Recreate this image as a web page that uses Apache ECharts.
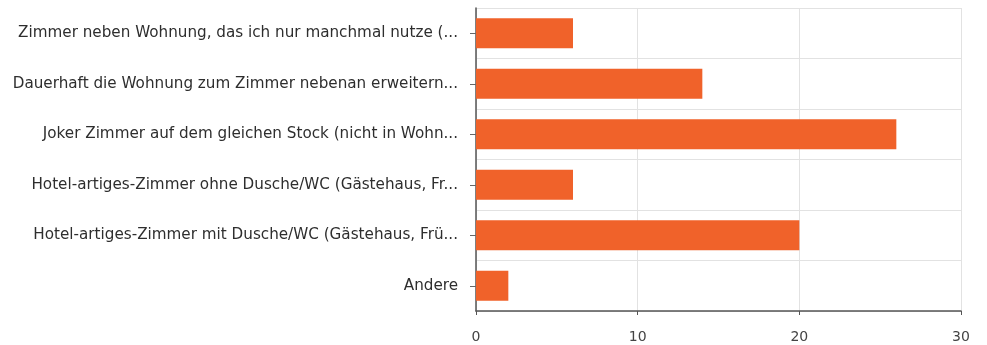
<!DOCTYPE html>
<html><head><meta charset="utf-8">
<script src="https://cdn.jsdelivr.net/npm/echarts@6/dist/echarts.min.js"></script>
<style>html,body{margin:0;padding:0;background:#fff}#c{width:987px;height:345px}</style>
</head><body><div id="c"></div>
<script>
const categories = [
  "Zimmer neben Wohnung, das ich nur manchmal nutze (...",
  "Dauerhaft die Wohnung zum Zimmer nebenan erweitern...",
  "Joker Zimmer auf dem gleichen Stock (nicht in Wohn...",
  "Hotel-artiges-Zimmer ohne Dusche/WC (Gästehaus, Fr...",
  "Hotel-artiges-Zimmer mit Dusche/WC (Gästehaus, Frü...",
  "Andere"
];
const values = [6, 14, 26, 6, 20, 2];
const xTicks = [0, 10, 20, 30];

const chart = echarts.init(document.getElementById('c'));
chart.setOption({
  animation: false,
  grid: { left: 476, right: 26, top: 8, bottom: 34, containLabel: false },
  xAxis: {
    type: 'value', min: xTicks[0], max: xTicks[xTicks.length - 1], interval: 10,
    axisLine: { show: true, lineStyle: { color: '#555', width: 1.5 } },
    axisTick: { show: true, length: 4, lineStyle: { color: '#555' } },
    axisLabel: { color: '#444', fontSize: 14, fontFamily: 'DejaVu Sans', margin: 19 },
    splitLine: { show: true, lineStyle: { color: '#e2e2e2' } }
  },
  yAxis: {
    type: 'category', data: categories, inverse: true,
    axisLine: { show: true, lineStyle: { color: '#555', width: 1.5 } },
    axisTick: { show: true, alignWithLabel: true, length: 6, lineStyle: { color: '#666' } },
    axisLabel: { color: '#2e2e2e', fontSize: 15.2, fontFamily: 'DejaVu Sans', margin: 18 },
    splitLine: { show: true, lineStyle: { color: '#e2e2e2' } }
  },
  series: [{
    type: 'bar', data: values, barWidth: '59%',
    itemStyle: { color: '#f0622a' }
  }]
});
</script></body></html>
